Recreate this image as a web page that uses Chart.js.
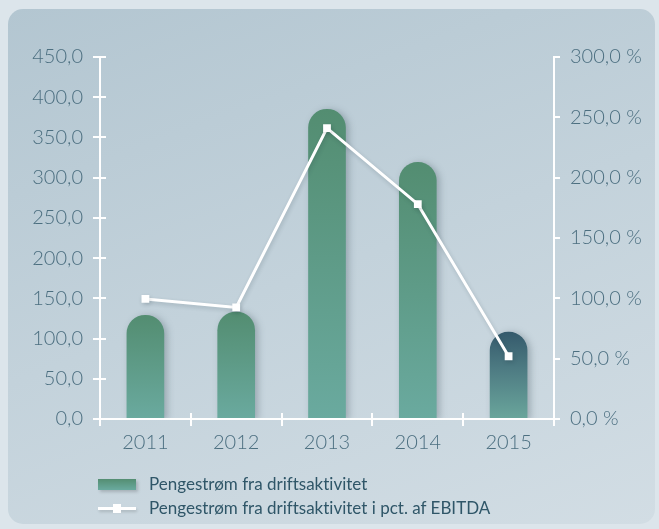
<!DOCTYPE html>
<html>
<head>
<meta charset="utf-8">
<script src="https://cdn.jsdelivr.net/npm/chart.js@4"></script>
<style>
  html, body { margin:0; padding:0; width:659px; height:529px; overflow:hidden; background:#dce5eb; }
  #panel { position:absolute; left:8px; top:9px; width:647px; height:515px; border-radius:15px;
    background: linear-gradient(160deg, #b3c6d1 0%, #c3d2db 50%, #d2dde4 100%); }
  #wrap { position:absolute; left:0; top:0; width:659px; height:529px; }
  #legend { position:absolute; left:98px; top:472px; font-family: Lato, sans-serif; font-size:17px; color:#2f5668;
    font-variant-ligatures: none; font-feature-settings: "liga" 0, "clig" 0; }
  .item { position:relative; height:24px; line-height:24px; padding-left:51px; white-space:nowrap; }
  .sw { position:absolute; left:0; top:7px; width:38px; height:11px;
        background:linear-gradient(#548e72,#6aaa9f); box-shadow:2px 2px 3px rgba(0,0,0,0.18); }
  .ln { position:absolute; left:0; top:11px; width:38px; height:3px; background:#fff; box-shadow:1px 2px 3px rgba(0,0,0,0.15); }
  .mk { position:absolute; left:15px; top:8px; width:8px; height:9px; background:#fff; }
</style>
</head>
<body>
<div id="panel"></div>
<div id="wrap"><canvas id="c" width="659" height="529"></canvas></div>
<div id="legend"></div>
<script>
const categories = ['2011', '2012', '2013', '2014', '2015'];
const cashFlow = [129, 133, 385, 319, 108];
const pctEbitda = [99.5, 92.5, 241, 178, 52];
const leftTicks = [0, 50, 100, 150, 200, 250, 300, 350, 400, 450];
const rightTicks = [0, 50, 100, 150, 200, 250, 300];
const seriesNames = ['Pengestrøm fra driftsaktivitet', 'Pengestrøm fra driftsaktivitet i pct. af EBITDA'];

const fmt = v => v.toFixed(1).replace('.', ',');

const leg = document.getElementById('legend');
seriesNames.forEach((name, i) => {
  const d = document.createElement('div'); d.className = 'item';
  d.innerHTML = i === 0 ? '<span class="sw"></span>' : '<span class="ln"></span><span class="mk"></span>';
  d.appendChild(document.createTextNode(name));
  leg.appendChild(d);
});

function barColor(ctx) {
  const chart = ctx.chart;
  const y = chart.scales && chart.scales.y;
  if (!y || !chart.chartArea || ctx.dataIndex === undefined) return '#5c9a84';
  const top = y.getPixelForValue(ctx.raw), bottom = y.getPixelForValue(0);
  if (!isFinite(top) || !isFinite(bottom) || top === bottom) return '#5c9a84';
  const g = chart.ctx.createLinearGradient(0, top, 0, bottom);
  if (ctx.dataIndex === categories.length - 1) {
    g.addColorStop(0, '#355a6c'); g.addColorStop(0.45, '#4f7d84'); g.addColorStop(1, '#6aa69c');
  } else {
    g.addColorStop(0, '#538d71'); g.addColorStop(1, '#6aaa9f');
  }
  return g;
}

const tickPlugin = {
  id: 'crossTicks',
  beforeDatasetDraw(chart, args) {
    const ctx = chart.ctx;
    ctx.save();
    if (args.index === 0) {
      ctx.shadowColor = 'rgba(30,50,60,0.28)'; ctx.shadowBlur = 7; ctx.shadowOffsetX = 3; ctx.shadowOffsetY = 1;
    } else {
      ctx.shadowColor = 'rgba(30,50,60,0.2)'; ctx.shadowBlur = 4; ctx.shadowOffsetX = 1; ctx.shadowOffsetY = 2;
    }
  },
  afterDatasetDraw(chart) { chart.ctx.restore(); },
  afterDraw(chart) {
    const ctx = chart.ctx, y = chart.scales.y, y1 = chart.scales.y1, x = chart.scales.x;
    ctx.save();
    ctx.strokeStyle = '#ffffff'; ctx.lineWidth = 2;
    ctx.beginPath();
    leftTicks.forEach(t => { const p = Math.round(y.getPixelForValue(t)); ctx.moveTo(x.left - 7, p); ctx.lineTo(x.left + 6, p); });
    rightTicks.forEach(t => { const p = Math.round(y1.getPixelForValue(t)); ctx.moveTo(x.right, p); ctx.lineTo(x.right + 6, p); });
    const n = categories.length;
    for (let i = 1; i <= n; i++) {
      const px = Math.round(x.left + (x.right - x.left) * i / n);
      ctx.moveTo(px, y.bottom - 6); ctx.lineTo(px, y.bottom + 7);
    }
    ctx.moveTo(x.left, y.top - 1); ctx.lineTo(x.left, y.bottom + 7);
    ctx.moveTo(x.right, y.top - 1); ctx.lineTo(x.right, y.bottom);
    ctx.moveTo(x.left - 7, Math.round(y.bottom)); ctx.lineTo(x.right + 1, Math.round(y.bottom));
    ctx.stroke();
    ctx.restore();
  }
};

const tickFont = { family: 'Lato', size: 20, weight: '300' };
const tickColor = '#4c6f80';

new Chart(document.getElementById('c'), {
  data: {
    labels: categories,
    datasets: [
      { type: 'bar', label: seriesNames[0], data: cashFlow, yAxisID: 'y', order: 2,
        backgroundColor: barColor, barThickness: 37,
        borderRadius: { topLeft: 18.5, topRight: 18.5, bottomLeft: 0, bottomRight: 0 }, borderSkipped: 'bottom' },
      { type: 'line', label: seriesNames[1], data: pctEbitda, yAxisID: 'y1', order: 1,
        borderColor: '#ffffff', borderWidth: 3, pointStyle: 'rect', pointRadius: 5.5,
        pointBackgroundColor: '#ffffff', pointBorderWidth: 0, tension: 0 }
    ]
  },
  options: {
    responsive: false, animation: false, events: [],
    layout: { padding: { top: 57, left: 0, right: 0, bottom: 0 } },
    plugins: { legend: { display: false }, tooltip: { enabled: false } },
    scales: {
      x: { offset: true, grid: { display: false }, border: { display: false },
           ticks: { font: tickFont, color: tickColor, padding: 4 },
           afterFit: s => { s.height = 110; } },
      y: { position: 'left', min: 0, max: 450,
           afterBuildTicks: s => { s.ticks = leftTicks.map(v => ({ value: v })); },
           grid: { display: false, drawTicks: false }, border: { display: false },
           ticks: { font: tickFont, color: tickColor, padding: 17, callback: v => fmt(v) },
           afterFit: s => { s.width = 100; } },
      y1: { position: 'right', min: 0, max: 300,
           afterBuildTicks: s => { s.ticks = rightTicks.map(v => ({ value: v })); },
           grid: { display: false, drawTicks: false }, border: { display: false },
           ticks: { font: tickFont, color: tickColor, padding: 16, callback: v => fmt(v) + ' %' },
           afterFit: s => { s.width = 105; } }
    }
  },
  plugins: [tickPlugin]
});
</script>
</body>
</html>
